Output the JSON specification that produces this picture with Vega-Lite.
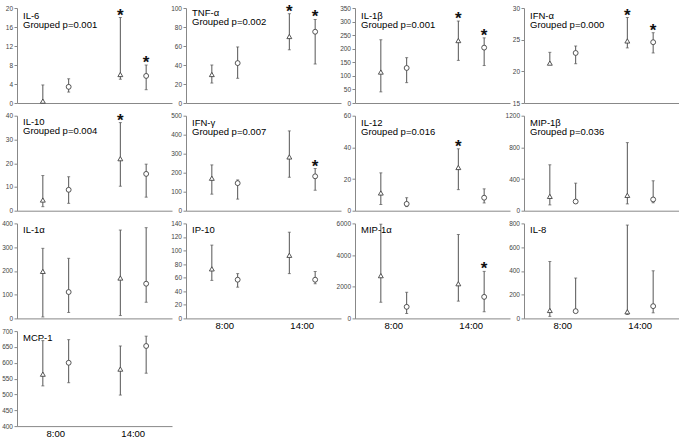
{
"$schema":"https://vega.github.io/schema/vega-lite/v6.json",
"padding":{"left":1,"top":2,"right":0,"bottom":0},
"columns":4,
"bounds":"flush",
"align":"all",
"spacing":{"row":12.7,"column":14},
"data":{"values":[
{"c":"IL-6","t":"8:00","g":"A","m":0.4,"lo":0,"hi":3.8,"s":0},
{"c":"IL-6","t":"8:00","g":"B","m":3.4,"lo":2.3,"hi":5.1,"s":0},
{"c":"IL-6","t":"14:00","g":"A","m":6.0,"lo":5.0,"hi":18.0,"s":1},
{"c":"IL-6","t":"14:00","g":"B","m":5.7,"lo":2.8,"hi":8.0,"s":1},
{"c":"TNF-α","t":"8:00","g":"A","m":30,"lo":21,"hi":40,"s":0},
{"c":"TNF-α","t":"8:00","g":"B","m":42,"lo":26,"hi":59,"s":0},
{"c":"TNF-α","t":"14:00","g":"A","m":70,"lo":56,"hi":94,"s":1},
{"c":"TNF-α","t":"14:00","g":"B","m":75,"lo":41,"hi":88,"s":1},
{"c":"IL-1β","t":"8:00","g":"A","m":114,"lo":41,"hi":233,"s":0},
{"c":"IL-1β","t":"8:00","g":"B","m":129,"lo":75,"hi":167,"s":0},
{"c":"IL-1β","t":"14:00","g":"A","m":230,"lo":157,"hi":302,"s":1},
{"c":"IL-1β","t":"14:00","g":"B","m":204,"lo":138,"hi":240,"s":1},
{"c":"IFN-α","t":"8:00","g":"A","m":21.3,"lo":21.2,"hi":23.0,"s":0},
{"c":"IFN-α","t":"8:00","g":"B","m":22.9,"lo":21.2,"hi":24.0,"s":0},
{"c":"IFN-α","t":"14:00","g":"A","m":24.8,"lo":23.7,"hi":28.5,"s":1},
{"c":"IFN-α","t":"14:00","g":"B","m":24.6,"lo":22.9,"hi":26.1,"s":1},
{"c":"IL-10","t":"8:00","g":"A","m":4.5,"lo":1.7,"hi":14.8,"s":0},
{"c":"IL-10","t":"8:00","g":"B","m":8.8,"lo":3.1,"hi":14.3,"s":0},
{"c":"IL-10","t":"14:00","g":"A","m":21.9,"lo":10.3,"hi":37.1,"s":1},
{"c":"IL-10","t":"14:00","g":"B","m":15.5,"lo":5.7,"hi":19.6,"s":0},
{"c":"IFN-γ","t":"8:00","g":"A","m":171,"lo":87,"hi":241,"s":0},
{"c":"IFN-γ","t":"8:00","g":"B","m":145,"lo":61,"hi":162,"s":0},
{"c":"IFN-γ","t":"14:00","g":"A","m":283,"lo":176,"hi":420,"s":0},
{"c":"IFN-γ","t":"14:00","g":"B","m":181,"lo":108,"hi":222,"s":1},
{"c":"IL-12","t":"8:00","g":"A","m":11.2,"lo":3.9,"hi":23.9,"s":0},
{"c":"IL-12","t":"8:00","g":"B","m":4.3,"lo":2.6,"hi":8.2,"s":0},
{"c":"IL-12","t":"14:00","g":"A","m":27.3,"lo":13.3,"hi":39.1,"s":1},
{"c":"IL-12","t":"14:00","g":"B","m":8.2,"lo":4.9,"hi":13.8,"s":0},
{"c":"MIP-1β","t":"8:00","g":"A","m":181,"lo":73,"hi":580,"s":0},
{"c":"MIP-1β","t":"8:00","g":"B","m":116,"lo":100,"hi":348,"s":0},
{"c":"MIP-1β","t":"14:00","g":"A","m":194,"lo":86,"hi":860,"s":0},
{"c":"MIP-1β","t":"14:00","g":"B","m":142,"lo":100,"hi":378,"s":0},
{"c":"IL-1α","t":"8:00","g":"A","m":198,"lo":6,"hi":295,"s":0},
{"c":"IL-1α","t":"8:00","g":"B","m":111,"lo":25,"hi":253,"s":0},
{"c":"IL-1α","t":"14:00","g":"A","m":170,"lo":12,"hi":372,"s":0},
{"c":"IL-1α","t":"14:00","g":"B","m":146,"lo":68,"hi":382,"s":0},
{"c":"IP-10","t":"8:00","g":"A","m":73,"lo":56,"hi":108,"s":0},
{"c":"IP-10","t":"8:00","g":"B","m":57,"lo":46,"hi":66,"s":0},
{"c":"IP-10","t":"14:00","g":"A","m":93,"lo":66,"hi":127,"s":0},
{"c":"IP-10","t":"14:00","g":"B","m":57,"lo":51,"hi":69,"s":0},
{"c":"MIP-1α","t":"8:00","g":"A","m":2700,"lo":1020,"hi":5950,"s":0},
{"c":"MIP-1α","t":"8:00","g":"B","m":730,"lo":310,"hi":1650,"s":0},
{"c":"MIP-1α","t":"14:00","g":"A","m":2190,"lo":1090,"hi":5300,"s":0},
{"c":"MIP-1α","t":"14:00","g":"B","m":1360,"lo":420,"hi":2970,"s":1},
{"c":"IL-8","t":"8:00","g":"A","m":67,"lo":17,"hi":479,"s":0},
{"c":"IL-8","t":"8:00","g":"B","m":61,"lo":50,"hi":340,"s":0},
{"c":"IL-8","t":"14:00","g":"A","m":56,"lo":33,"hi":786,"s":0},
{"c":"IL-8","t":"14:00","g":"B","m":103,"lo":47,"hi":401,"s":0},
{"c":"MCP-1","t":"8:00","g":"A","m":564,"lo":527,"hi":670,"s":0},
{"c":"MCP-1","t":"8:00","g":"B","m":600,"lo":537,"hi":673,"s":0},
{"c":"MCP-1","t":"14:00","g":"A","m":580,"lo":498,"hi":653,"s":0},
{"c":"MCP-1","t":"14:00","g":"B","m":653,"lo":567,"hi":684,"s":0}
]},
"concat":[
{"width":155,"height":95,"title":{"text":["IL-6","Grouped p=0.001"],"offset":-24},"transform":[{"filter":"datum.c==='IL-6'"}],
"encoding":{"x":{"field":"t","type":"nominal","title":null,"scale":{"domain":["8:00","14:00"],"paddingInner":0,"paddingOuter":0},"axis":{"labels":false}},"xOffset":{"field":"g","type":"nominal","scale":{"domain":["A","B"],"paddingInner":0,"paddingOuter":0.5}}},
"layer":[
{"mark":"rule","encoding":{"y":{"field":"lo","type":"quantitative","title":null,"scale":{"domain":[0,20],"nice":false},"axis":{"values":[0,4,8,12,16,20],"tickCount":20,"labelOverlap":false,"labelFlush":false}},"y2":{"field":"hi"}}},
{"transform":[{"fold":["lo","hi"],"as":["k","v"]}],"mark":"tick","encoding":{"y":{"field":"v","type":"quantitative","title":null}}},
{"mark":"point","encoding":{"y":{"field":"m","type":"quantitative","title":null},"shape":{"field":"g","type":"nominal","scale":{"domain":["A","B"],"range":["triangle-up","circle"]},"legend":null}}},
{"transform":[{"filter":"datum.s==1"}],"mark":{"type":"text","text":"*"},"encoding":{"y":{"field":"hi","type":"quantitative","title":null}}}
]},
{"width":155,"height":95,"title":{"text":["TNF-α","Grouped p=0.002"],"offset":-24},"transform":[{"filter":"datum.c==='TNF-α'"}],
"encoding":{"x":{"field":"t","type":"nominal","title":null,"scale":{"domain":["8:00","14:00"],"paddingInner":0,"paddingOuter":0},"axis":{"labels":false}},"xOffset":{"field":"g","type":"nominal","scale":{"domain":["A","B"],"paddingInner":0,"paddingOuter":0.5}}},
"layer":[
{"mark":"rule","encoding":{"y":{"field":"lo","type":"quantitative","title":null,"scale":{"domain":[0,100],"nice":false},"axis":{"values":[0,20,40,60,80,100],"tickCount":20,"labelOverlap":false,"labelFlush":false}},"y2":{"field":"hi"}}},
{"transform":[{"fold":["lo","hi"],"as":["k","v"]}],"mark":"tick","encoding":{"y":{"field":"v","type":"quantitative","title":null}}},
{"mark":"point","encoding":{"y":{"field":"m","type":"quantitative","title":null},"shape":{"field":"g","type":"nominal","scale":{"domain":["A","B"],"range":["triangle-up","circle"]},"legend":null}}},
{"transform":[{"filter":"datum.s==1"}],"mark":{"type":"text","text":"*"},"encoding":{"y":{"field":"hi","type":"quantitative","title":null}}}
]},
{"width":155,"height":95,"title":{"text":["IL-1β","Grouped p=0.001"],"offset":-24},"transform":[{"filter":"datum.c==='IL-1β'"}],
"encoding":{"x":{"field":"t","type":"nominal","title":null,"scale":{"domain":["8:00","14:00"],"paddingInner":0,"paddingOuter":0},"axis":{"labels":false}},"xOffset":{"field":"g","type":"nominal","scale":{"domain":["A","B"],"paddingInner":0,"paddingOuter":0.5}}},
"layer":[
{"mark":"rule","encoding":{"y":{"field":"lo","type":"quantitative","title":null,"scale":{"domain":[0,350],"nice":false},"axis":{"values":[0,50,100,150,200,250,300,350],"tickCount":20,"labelOverlap":false,"labelFlush":false}},"y2":{"field":"hi"}}},
{"transform":[{"fold":["lo","hi"],"as":["k","v"]}],"mark":"tick","encoding":{"y":{"field":"v","type":"quantitative","title":null}}},
{"mark":"point","encoding":{"y":{"field":"m","type":"quantitative","title":null},"shape":{"field":"g","type":"nominal","scale":{"domain":["A","B"],"range":["triangle-up","circle"]},"legend":null}}},
{"transform":[{"filter":"datum.s==1"}],"mark":{"type":"text","text":"*"},"encoding":{"y":{"field":"hi","type":"quantitative","title":null}}}
]},
{"width":155,"height":95,"title":{"text":["IFN-α","Grouped p=0.000"],"offset":-24},"transform":[{"filter":"datum.c==='IFN-α'"}],
"encoding":{"x":{"field":"t","type":"nominal","title":null,"scale":{"domain":["8:00","14:00"],"paddingInner":0,"paddingOuter":0},"axis":{"labels":false}},"xOffset":{"field":"g","type":"nominal","scale":{"domain":["A","B"],"paddingInner":0,"paddingOuter":0.5}}},
"layer":[
{"mark":"rule","encoding":{"y":{"field":"lo","type":"quantitative","title":null,"scale":{"domain":[15,30],"nice":false,"zero":false},"axis":{"values":[15,20,25,30],"tickCount":20,"labelOverlap":false,"labelFlush":false}},"y2":{"field":"hi"}}},
{"transform":[{"fold":["lo","hi"],"as":["k","v"]}],"mark":"tick","encoding":{"y":{"field":"v","type":"quantitative","title":null}}},
{"mark":"point","encoding":{"y":{"field":"m","type":"quantitative","title":null},"shape":{"field":"g","type":"nominal","scale":{"domain":["A","B"],"range":["triangle-up","circle"]},"legend":null}}},
{"transform":[{"filter":"datum.s==1"}],"mark":{"type":"text","text":"*"},"encoding":{"y":{"field":"hi","type":"quantitative","title":null}}}
]},
{"width":155,"height":95,"title":{"text":["IL-10","Grouped p=0.004"],"offset":-24},"transform":[{"filter":"datum.c==='IL-10'"}],
"encoding":{"x":{"field":"t","type":"nominal","title":null,"scale":{"domain":["8:00","14:00"],"paddingInner":0,"paddingOuter":0},"axis":{"labels":false}},"xOffset":{"field":"g","type":"nominal","scale":{"domain":["A","B"],"paddingInner":0,"paddingOuter":0.5}}},
"layer":[
{"mark":"rule","encoding":{"y":{"field":"lo","type":"quantitative","title":null,"scale":{"domain":[0,40],"nice":false},"axis":{"values":[0,10,20,30,40],"tickCount":20,"labelOverlap":false,"labelFlush":false}},"y2":{"field":"hi"}}},
{"transform":[{"fold":["lo","hi"],"as":["k","v"]}],"mark":"tick","encoding":{"y":{"field":"v","type":"quantitative","title":null}}},
{"mark":"point","encoding":{"y":{"field":"m","type":"quantitative","title":null},"shape":{"field":"g","type":"nominal","scale":{"domain":["A","B"],"range":["triangle-up","circle"]},"legend":null}}},
{"transform":[{"filter":"datum.s==1"}],"mark":{"type":"text","text":"*"},"encoding":{"y":{"field":"hi","type":"quantitative","title":null}}}
]},
{"width":155,"height":95,"title":{"text":["IFN-γ","Grouped p=0.007"],"offset":-24},"transform":[{"filter":"datum.c==='IFN-γ'"}],
"encoding":{"x":{"field":"t","type":"nominal","title":null,"scale":{"domain":["8:00","14:00"],"paddingInner":0,"paddingOuter":0},"axis":{"labels":false}},"xOffset":{"field":"g","type":"nominal","scale":{"domain":["A","B"],"paddingInner":0,"paddingOuter":0.5}}},
"layer":[
{"mark":"rule","encoding":{"y":{"field":"lo","type":"quantitative","title":null,"scale":{"domain":[0,500],"nice":false},"axis":{"values":[0,100,200,300,400,500],"tickCount":20,"labelOverlap":false,"labelFlush":false}},"y2":{"field":"hi"}}},
{"transform":[{"fold":["lo","hi"],"as":["k","v"]}],"mark":"tick","encoding":{"y":{"field":"v","type":"quantitative","title":null}}},
{"mark":"point","encoding":{"y":{"field":"m","type":"quantitative","title":null},"shape":{"field":"g","type":"nominal","scale":{"domain":["A","B"],"range":["triangle-up","circle"]},"legend":null}}},
{"transform":[{"filter":"datum.s==1"}],"mark":{"type":"text","text":"*"},"encoding":{"y":{"field":"hi","type":"quantitative","title":null}}}
]},
{"width":155,"height":95,"title":{"text":["IL-12","Grouped p=0.016"],"offset":-24},"transform":[{"filter":"datum.c==='IL-12'"}],
"encoding":{"x":{"field":"t","type":"nominal","title":null,"scale":{"domain":["8:00","14:00"],"paddingInner":0,"paddingOuter":0},"axis":{"labels":false}},"xOffset":{"field":"g","type":"nominal","scale":{"domain":["A","B"],"paddingInner":0,"paddingOuter":0.5}}},
"layer":[
{"mark":"rule","encoding":{"y":{"field":"lo","type":"quantitative","title":null,"scale":{"domain":[0,60],"nice":false},"axis":{"values":[0,20,40,60],"tickCount":20,"labelOverlap":false,"labelFlush":false}},"y2":{"field":"hi"}}},
{"transform":[{"fold":["lo","hi"],"as":["k","v"]}],"mark":"tick","encoding":{"y":{"field":"v","type":"quantitative","title":null}}},
{"mark":"point","encoding":{"y":{"field":"m","type":"quantitative","title":null},"shape":{"field":"g","type":"nominal","scale":{"domain":["A","B"],"range":["triangle-up","circle"]},"legend":null}}},
{"transform":[{"filter":"datum.s==1"}],"mark":{"type":"text","text":"*"},"encoding":{"y":{"field":"hi","type":"quantitative","title":null}}}
]},
{"width":155,"height":95,"title":{"text":["MIP-1β","Grouped p=0.036"],"offset":-24},"transform":[{"filter":"datum.c==='MIP-1β'"}],
"encoding":{"x":{"field":"t","type":"nominal","title":null,"scale":{"domain":["8:00","14:00"],"paddingInner":0,"paddingOuter":0},"axis":{"labels":false}},"xOffset":{"field":"g","type":"nominal","scale":{"domain":["A","B"],"paddingInner":0,"paddingOuter":0.5}}},
"layer":[
{"mark":"rule","encoding":{"y":{"field":"lo","type":"quantitative","title":null,"scale":{"domain":[0,1200],"nice":false},"axis":{"values":[0,400,800,1200],"tickCount":20,"labelOverlap":false,"labelFlush":false}},"y2":{"field":"hi"}}},
{"transform":[{"fold":["lo","hi"],"as":["k","v"]}],"mark":"tick","encoding":{"y":{"field":"v","type":"quantitative","title":null}}},
{"mark":"point","encoding":{"y":{"field":"m","type":"quantitative","title":null},"shape":{"field":"g","type":"nominal","scale":{"domain":["A","B"],"range":["triangle-up","circle"]},"legend":null}}},
{"transform":[{"filter":"datum.s==1"}],"mark":{"type":"text","text":"*"},"encoding":{"y":{"field":"hi","type":"quantitative","title":null}}}
]},
{"width":155,"height":95,"title":{"text":["IL-1α"],"offset":-14},"transform":[{"filter":"datum.c==='IL-1α'"}],
"encoding":{"x":{"field":"t","type":"nominal","title":null,"scale":{"domain":["8:00","14:00"],"paddingInner":0,"paddingOuter":0},"axis":{"labels":false}},"xOffset":{"field":"g","type":"nominal","scale":{"domain":["A","B"],"paddingInner":0,"paddingOuter":0.5}}},
"layer":[
{"mark":"rule","encoding":{"y":{"field":"lo","type":"quantitative","title":null,"scale":{"domain":[0,400],"nice":false},"axis":{"values":[0,100,200,300,400],"tickCount":20,"labelOverlap":false,"labelFlush":false}},"y2":{"field":"hi"}}},
{"transform":[{"fold":["lo","hi"],"as":["k","v"]}],"mark":"tick","encoding":{"y":{"field":"v","type":"quantitative","title":null}}},
{"mark":"point","encoding":{"y":{"field":"m","type":"quantitative","title":null},"shape":{"field":"g","type":"nominal","scale":{"domain":["A","B"],"range":["triangle-up","circle"]},"legend":null}}}
]},
{"width":155,"height":95,"title":{"text":["IP-10"],"offset":-14},"transform":[{"filter":"datum.c==='IP-10'"}],
"encoding":{"x":{"field":"t","type":"nominal","title":null,"scale":{"domain":["8:00","14:00"],"paddingInner":0,"paddingOuter":0},"axis":{"labels":true}},"xOffset":{"field":"g","type":"nominal","scale":{"domain":["A","B"],"paddingInner":0,"paddingOuter":0.5}}},
"layer":[
{"mark":"rule","encoding":{"y":{"field":"lo","type":"quantitative","title":null,"scale":{"domain":[0,140],"nice":false},"axis":{"values":[0,20,40,60,80,100,120,140],"tickCount":20,"labelOverlap":false,"labelFlush":false}},"y2":{"field":"hi"}}},
{"transform":[{"fold":["lo","hi"],"as":["k","v"]}],"mark":"tick","encoding":{"y":{"field":"v","type":"quantitative","title":null}}},
{"mark":"point","encoding":{"y":{"field":"m","type":"quantitative","title":null},"shape":{"field":"g","type":"nominal","scale":{"domain":["A","B"],"range":["triangle-up","circle"]},"legend":null}}}
]},
{"width":155,"height":95,"title":{"text":["MIP-1α"],"offset":-14},"transform":[{"filter":"datum.c==='MIP-1α'"}],
"encoding":{"x":{"field":"t","type":"nominal","title":null,"scale":{"domain":["8:00","14:00"],"paddingInner":0,"paddingOuter":0},"axis":{"labels":true}},"xOffset":{"field":"g","type":"nominal","scale":{"domain":["A","B"],"paddingInner":0,"paddingOuter":0.5}}},
"layer":[
{"mark":"rule","encoding":{"y":{"field":"lo","type":"quantitative","title":null,"scale":{"domain":[0,6000],"nice":false},"axis":{"values":[0,2000,4000,6000],"tickCount":20,"labelOverlap":false,"labelFlush":false}},"y2":{"field":"hi"}}},
{"transform":[{"fold":["lo","hi"],"as":["k","v"]}],"mark":"tick","encoding":{"y":{"field":"v","type":"quantitative","title":null}}},
{"mark":"point","encoding":{"y":{"field":"m","type":"quantitative","title":null},"shape":{"field":"g","type":"nominal","scale":{"domain":["A","B"],"range":["triangle-up","circle"]},"legend":null}}},
{"transform":[{"filter":"datum.s==1"}],"mark":{"type":"text","text":"*"},"encoding":{"y":{"field":"hi","type":"quantitative","title":null}}}
]},
{"width":155,"height":95,"title":{"text":["IL-8"],"offset":-14},"transform":[{"filter":"datum.c==='IL-8'"}],
"encoding":{"x":{"field":"t","type":"nominal","title":null,"scale":{"domain":["8:00","14:00"],"paddingInner":0,"paddingOuter":0},"axis":{"labels":true}},"xOffset":{"field":"g","type":"nominal","scale":{"domain":["A","B"],"paddingInner":0,"paddingOuter":0.5}}},
"layer":[
{"mark":"rule","encoding":{"y":{"field":"lo","type":"quantitative","title":null,"scale":{"domain":[0,800],"nice":false},"axis":{"values":[0,200,400,600,800],"tickCount":20,"labelOverlap":false,"labelFlush":false}},"y2":{"field":"hi"}}},
{"transform":[{"fold":["lo","hi"],"as":["k","v"]}],"mark":"tick","encoding":{"y":{"field":"v","type":"quantitative","title":null}}},
{"mark":"point","encoding":{"y":{"field":"m","type":"quantitative","title":null},"shape":{"field":"g","type":"nominal","scale":{"domain":["A","B"],"range":["triangle-up","circle"]},"legend":null}}}
]},
{"width":155,"height":95,"title":{"text":["MCP-1"],"offset":-14},"transform":[{"filter":"datum.c==='MCP-1'"}],
"encoding":{"x":{"field":"t","type":"nominal","title":null,"scale":{"domain":["8:00","14:00"],"paddingInner":0,"paddingOuter":0},"axis":{"labels":true}},"xOffset":{"field":"g","type":"nominal","scale":{"domain":["A","B"],"paddingInner":0,"paddingOuter":0.5}}},
"layer":[
{"mark":"rule","encoding":{"y":{"field":"lo","type":"quantitative","title":null,"scale":{"domain":[400,700],"nice":false,"zero":false},"axis":{"values":[400,450,500,550,600,650,700],"tickCount":20,"labelOverlap":false,"labelFlush":false}},"y2":{"field":"hi"}}},
{"transform":[{"fold":["lo","hi"],"as":["k","v"]}],"mark":"tick","encoding":{"y":{"field":"v","type":"quantitative","title":null}}},
{"mark":"point","encoding":{"y":{"field":"m","type":"quantitative","title":null},"shape":{"field":"g","type":"nominal","scale":{"domain":["A","B"],"range":["triangle-up","circle"]},"legend":null}}}
]}
],
"config":{
"view":{"stroke":null},
"font":"Liberation Sans",
"axis":{"grid":false,"domainColor":"#888","tickColor":"#888","labelFont":"Liberation Sans"},
"axisY":{"labelFontSize":6.5,"labelColor":"#444","tickSize":3,"labelPadding":1.5,"format":"d"},
"axisX":{"ticks":false,"labelFontSize":9.5,"labelColor":"#000","labelAngle":0,"labelPadding":2},
"rule":{"color":"#555","strokeWidth":1},
"tick":{"color":"#555","thickness":1,"size":3},
"point":{"filled":true,"color":"white","stroke":"#444","strokeWidth":0.9,"size":24,"opacity":1},
"text":{"fontSize":17,"fontWeight":"bold","baseline":"alphabetic","dy":3,"color":"#111","font":"Liberation Sans"},
"title":{"anchor":"start","frame":"group","baseline":"top","fontSize":9.5,"fontWeight":"normal","color":"#000","dx":6,"lineHeight":9,"font":"Liberation Sans"}
}
}
